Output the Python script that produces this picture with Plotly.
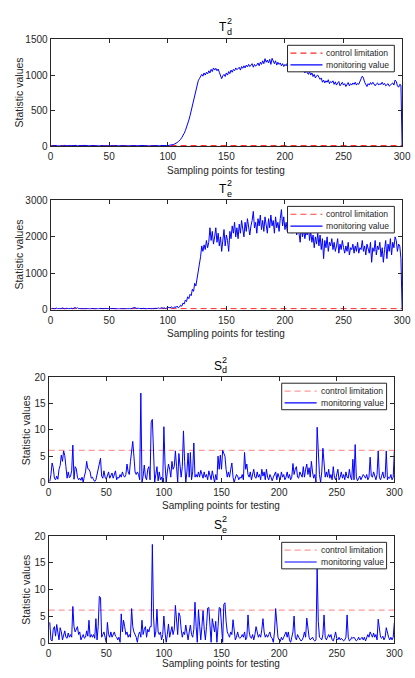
import plotly.graph_objects as go

W, H = 415, 678

x_samples = list(range(1, 301))

t2_d = [
    8, 12, 6, 10, 14, 9, 7, 11, 13, 8,
    10, 15, 9, 12, 8, 11, 14, 10, 7, 12,
    16, 11, 9, 13, 10, 8, 12, 15, 11, 9,
    13, 10, 7, 11, 14, 9, 12, 10, 8, 13,
    11, 9, 12, 15, 10, 8, 11, 13, 9, 12,
    10, 14, 11, 8, 12, 9, 13, 10, 11, 15,
    9, 12, 10, 8, 13, 11, 9, 14, 12, 10,
    16, 12, 9, 11, 13, 10, 8, 12, 14, 11,
    9, 13, 10, 12, 8, 11, 15, 10, 12, 9,
    11, 13, 10, 14, 12, 9, 11, 15, 13, 12,
    14, 16, 18, 22, 28, 35, 42, 55, 68, 80,
    100, 125, 150, 185, 220, 265, 310, 370, 430, 500,
    570, 640, 720, 800, 870, 920, 950, 990, 1010, 985,
    1030, 1000, 1040, 1015, 1060, 1030, 1080, 1050, 1100, 1070,
    1095, 1060, 1085, 1040, 985, 950, 990, 1010, 980, 1030,
    1000, 1050, 1020, 1070, 1040, 1080, 1060, 1100, 1075, 1090,
    1110, 1070, 1120, 1095, 1130, 1100, 1140, 1115, 1150, 1120,
    1135, 1160, 1110, 1150, 1125, 1140, 1170, 1130, 1180, 1150,
    1200, 1160, 1230, 1180, 1210, 1170, 1220, 1150, 1235, 1190,
    1160, 1200, 1140, 1180, 1150, 1170, 1130, 1160, 1120, 1150,
    1130, 1165, 1120, 1150, 1110, 1140, 1100, 1130, 1090, 1120,
    1080, 1110, 1060, 1090, 1050, 1080, 1030, 1060, 1040, 1010,
    1050, 1000, 1030, 980, 1010, 960, 990, 1000, 970, 940,
    960, 900, 930, 890, 920, 900, 935, 880, 910, 895,
    920, 870, 905, 860, 890, 910, 850, 880, 900, 860,
    880, 840, 870, 895, 850, 880, 860, 890, 870, 900,
    860, 885, 870, 920, 950, 985, 960, 900, 870, 840,
    880, 860, 895, 870, 900, 880, 850, 875, 890, 860,
    880, 870, 900, 865, 885, 850, 870, 880, 845, 860,
    875, 890, 860, 930, 910, 850, 830, 870, 860, 0,
]

t2_e = [
    20, 35, 15, 28, 40, 22, 18, 30, 25, 45,
    30, 18, 25, 38, 22, 15, 28, 35, 20, 42,
    55, 30, 48, 25, 18, 32, 22, 28, 15, 26,
    20, 33, 24, 18, 29, 36, 22, 17, 30, 25,
    19, 28, 34, 22, 16, 27, 31, 20, 24, 18,
    26, 33, 21, 29, 17, 25, 30, 22, 19, 28,
    24, 18, 32, 26, 20, 29, 23, 17, 31, 25,
    40, 58, 30, 22, 35, 28, 19, 26, 33, 21,
    27, 18, 30, 24, 36, 22, 28, 20, 34, 26,
    30, 45, 25, 38, 55, 32, 48, 28, 40, 35,
    60, 42, 75, 50, 38, 80, 55, 95, 45, 70,
    120, 90, 180, 150, 260, 220, 350, 300, 420, 380,
    560, 500, 720, 650, 900, 1050, 1250, 1450, 1750, 1600,
    1780, 1650, 1900, 1700, 1850, 2250, 1900, 2150, 1800, 2000,
    2250, 1850, 2100, 1750, 2000, 1600, 1950, 2200, 1750, 2050,
    1900, 1600, 2150, 1950, 2300, 2100, 2400, 2000, 2250, 1950,
    2350, 2100, 2450, 2200, 2000, 2400, 2150, 2500, 2250, 2050,
    2300, 2450, 2700, 2250, 2400, 2100, 2500, 2300, 2600, 2200,
    2450, 2150, 2550, 2350, 2100, 2500, 2250, 2600, 2300, 2450,
    2100, 2550, 2250, 2400, 2150, 2500, 2750, 2300, 2550, 2200,
    2400, 2150, 2350, 2250, 2450, 2100, 2400, 2200, 2350, 2050,
    2250, 2100, 1850, 2300, 2000, 2200, 1950, 2150, 2050, 2350,
    1900, 2150, 1850, 2050, 1700, 2000, 1800, 2100, 1750, 2050,
    1650, 1950, 1400, 1900, 1700, 2000, 1600, 1850, 1750, 1950,
    1650, 1850, 1600, 1750, 1950, 1550, 1800, 1650, 1900, 1700,
    1550, 1750, 1600, 1850, 1500, 1700, 1650, 1800, 1550, 1750,
    1600, 1850, 1550, 1700, 1650, 1900, 1600, 1750, 1500, 1800,
    1650, 1550, 1850, 1300, 1700, 1600, 1900, 1500, 1750, 1650,
    1850, 1450, 1700, 1300, 1650, 1900, 1400, 1800, 1600, 1950,
    1500, 1850, 1700, 2000, 1900, 1600, 1800, 1750, 1400, 0,
]

s2_d = [
    0.2, 1.5, 3.7, 2.8, 0.8, 0.5, 1.2, 0.6, 2.5, 3.2,
    5.2, 4.0, 6.0, 5.1, 3.0, 0.8, 2.0, 0.9, 1.2, 2.2,
    7.1, 0.6, 3.0, 2.6, 1.0, 0.5, 0.8, 0.4, 1.0, 0.0,
    1.2, 2.0, 4.0, 2.6, 2.5, 2.0, 0.8, 1.0, 0.5, 0.2,
    0.5, 1.5, 2.0, 3.0, 4.6, 1.2, 0.8, 2.2, 1.0, 0.6,
    1.5, 2.0, 0.8, 1.2, 1.8, 0.8, 1.5, 2.2, 0.5, 1.0,
    0.8, 1.5, 1.0, 2.0, 1.3, 1.0, 1.5, 3.5, 2.0, 1.5,
    4.0, 6.5, 7.8, 5.0, 2.0, 1.5, 2.0, 1.5, 0.5, 17.0,
    0.0, 1.2, 3.3, 1.0, 0.5, 2.5, 3.0, 0.5, 11.5, 12.0,
    6.0, 0.0, 1.5, 3.0, 0.3, 2.0, 0.5, 1.0, 0.0, 10.6,
    3.5, 0.0, 2.0, 3.5, 2.5, 1.0, 4.0, 2.5, 3.0, 6.0,
    3.0, 0.0, 5.5, 3.5, 1.0, 3.0, 9.8, 4.0, 0.0, 2.0,
    5.6, 1.0, 5.7, 0.5, 2.0, 7.5, 1.0, 1.5, 1.0, 2.0,
    1.0, 2.3, 1.5, 0.8, 2.0, 1.0, 1.5, 0.5, 2.2, 1.0,
    0.5, 2.2, 1.0, 0.0, 1.5, 0.5, 5.0, 2.5, 5.2, 2.5,
    6.1, 5.5, 5.0, 2.5, 1.0, 2.0, 1.0, 2.5, 3.7, 1.0,
    0.0, 0.8, 1.5, 1.2, 0.5, 1.0, 0.8, 1.5, 0.5, 5.7,
    2.5, 3.5, 1.5, 1.0, 2.0, 0.5, 1.5, 2.5, 1.0, 0.8,
    2.0, 1.0, 1.5, 0.5, 2.5, 1.2, 2.0, 0.5, 2.5, 1.0,
    0.5, 1.5, 1.0, 0.3, 1.0, 1.5, 2.0, 0.5, 1.7, 1.0,
    0.5, 2.0, 1.0, 1.5, 0.5, 1.0, 2.0, 0.8, 1.5, 0.5,
    1.0, 3.6, 1.5, 2.5, 3.0, 1.0, 0.8, 2.0, 1.5, 1.0,
    3.0, 1.0, 2.5, 3.5, 1.5, 2.8, 1.0, 4.0, 2.0, 0.8,
    1.5, 0.0, 10.5, 4.0, 1.5, 0.0, 2.0, 6.5, 2.5, 1.0,
    2.0, 1.0, 2.5, 0.8, 1.5, 0.5, 3.0, 1.0, 0.5, 1.5,
    2.5, 0.5, 1.0, 2.0, 0.8, 1.5, 0.5, 2.0, 1.0, 0.8,
    2.5, 1.0, 0.5, 4.4, 0.5, 7.2, 1.0, 0.3, 0.8, 1.2,
    0.5, 1.0, 1.5, 1.2, 0.8, 1.5, 0.5, 1.0, 4.8, 1.2,
    1.0, 2.0, 1.0, 0.5, 1.5, 6.0, 1.0, 0.5, 1.2, 2.0,
    0.8, 1.0, 6.0, 0.5, 1.0, 0.8, 1.5, 0.5, 1.0, 6.0,
]

s2_e = [
    3.8, 0.5, 0.3, 2.5, 3.0, 1.2, 3.4, 1.5, 0.5, 2.8,
    2.0, 0.5, 1.5, 2.2, 1.0, 0.8, 1.8, 1.0, 1.5, 1.0,
    6.8, 3.0, 2.0, 2.5, 3.0, 1.5, 2.0, 0.5, 1.2, 1.5,
    0.8, 1.0, 2.2, 1.2, 4.2, 1.0, 1.5, 1.0, 1.5, 0.8,
    4.5, 0.5, 3.0, 8.7, 8.5, 1.0, 1.5, 2.0, 1.0, 0.0,
    3.8, 1.5, 1.0, 2.0, 1.0, 1.5, 2.0, 1.2, 1.0, 0.5,
    1.0, 0.0, 5.4, 2.0, 4.2, 3.0, 1.5, 2.0, 1.0, 1.5,
    1.0, 6.4, 3.0, 2.0, 1.5, 1.0, 0.0, 1.5, 2.0, 1.0,
    4.2, 1.5, 2.5, 3.0, 1.0, 2.5, 2.0, 3.0, 3.0, 18.5,
    5.0, 1.0, 2.0, 6.3, 2.0, 1.5, 2.0, 0.5, 1.5, 5.0,
    2.0, 0.0, 1.5, 3.5, 1.0, 2.0, 3.0, 1.5, 2.5, 7.0,
    4.0, 1.5, 5.6, 5.0, 2.5, 1.0, 2.0, 1.5, 3.3, 2.0,
    0.5, 2.0, 3.3, 1.5, 1.0, 2.5, 7.6, 3.0, 0.0, 6.2,
    2.0, 0.5, 3.0, 6.0, 2.5, 0.5, 3.0, 6.5, 6.6, 2.0,
    0.0, 4.5, 3.0, 2.0, 4.0, 0.0, 3.0, 6.6, 6.5, 2.0,
    0.0, 7.2, 7.5, 4.0, 2.0, 1.5, 1.0, 2.0, 1.5, 4.3,
    1.5, 0.5, 1.0, 2.0, 1.0, 0.8, 1.0, 1.5, 1.0, 2.0,
    0.5, 1.0, 5.2, 2.0, 1.0, 0.8, 1.5, 0.5, 1.5, 3.0,
    2.0, 1.0, 1.5, 1.0, 2.5, 4.5, 2.0, 1.0, 1.5, 1.0,
    1.5, 2.0, 1.0, 0.8, 0.0, 2.0, 6.4, 3.0, 1.0, 0.5,
    0.2, 1.0, 0.5, 1.0, 1.5, 2.0, 1.0, 2.0, 0.5, 0.0,
    1.0, 2.0, 5.0, 1.0, 0.5, 1.5, 1.0, 0.5, 0.3, 0.5,
    1.0, 2.0, 1.0, 4.6, 2.5, 1.0, 0.5, 0.8, 1.0, 0.5,
    0.3, 0.5, 14.0, 4.0, 1.0, 0.8, 0.5, 1.5, 5.2, 1.0,
    0.5, 1.0, 1.5, 1.0, 1.5, 0.5, 0.3, 1.0, 2.0, 0.8,
    0.5, 1.0, 0.5, 0.8, 0.5, 0.3, 0.5, 1.0, 5.2, 1.0,
    0.3, 0.5, 1.0, 0.8, 1.0, 0.5, 0.3, 0.5, 1.0, 0.5,
    0.8, 1.0, 0.5, 1.0, 0.3, 1.0, 1.5, 1.0, 2.0, 1.5,
    1.0, 1.8, 1.0, 1.5, 0.5, 4.4, 2.5, 1.0, 0.8, 1.2,
    0.5, 1.0, 2.8, 1.5, 1.0, 0.5, 1.0, 0.5, 1.0, 3.8,
]

control_limits = [12, 25, 6.1, 6.1]
y_ranges = [[0, 1500], [0, 3000], [0, 20], [0, 20]]
y_dticks = [500, 1000, 5, 5]
x_tickvals = [0, 50, 100, 150, 200, 250, 300]
title_main = ["T", "T", "S", "S"]
title_sub = ["d", "e", "d", "e"]
legend_names = ["control limitation", "monitoring value"]
x_label = "Sampling points for testing"
y_label = "Statistic values"

series = [t2_d, t2_e, s2_d, s2_e]

# layout geometry (pixels): panel box (left, right, top, bottom)
boxes = [(49, 411, 34, 143), (49, 411, 198, 309), (47, 403, 378, 485), (47, 403, 540, 648)]
legend_box = [(293, 403, 40, 67), (293, 403, 204, 231), (287, 395, 384, 411), (287, 395, 546, 573)]
title_pos = [(226.5, 21), (226.5, 186), (221.5, 366), (221.5, 528)]
xlab_y = [167.5, 333.5, 508.5, 669.5]
ylab_x = [16, 16, 24, 24]
limit_colors = ["rgba(255,0,0,0.85)", "rgba(255,0,0,0.75)", "rgba(255,70,70,0.55)", "rgba(255,70,70,0.55)"]
DASH = "6px,4px"

def xp(px):
    return px / W

def yp(py):
    return 1 - py / H

FONT = "Liberation Sans, Arial, sans-serif"
TXT = "#262626"

fig = go.Figure()
annotations = []
shapes = []
layout = dict(
    width=W, height=H, autosize=False,
    margin=dict(l=0, r=0, t=0, b=0),
    paper_bgcolor="white", plot_bgcolor="white",
    font=dict(family=FONT, size=10, color=TXT),
    showlegend=False,
)

def pann(text, x, y, size, color=TXT, angle=0, xanchor="center"):
    return dict(text=text, x=xp(x), y=yp(y), xref="paper", yref="paper",
                showarrow=False, xanchor=xanchor, yanchor="middle", textangle=angle,
                font=dict(family=FONT, size=size, color=color))

for i in range(4):
    n = i + 1
    xa = "x" if n == 1 else f"x{n}"
    ya = "y" if n == 1 else f"y{n}"
    vals = series[i]
    fig.add_trace(go.Scatter(
        x=[0, 300], y=[control_limits[i], control_limits[i]], mode="lines",
        line=dict(color=limit_colors[i], width=1.2, dash=DASH),
        name=legend_names[0], xaxis=xa, yaxis=ya, hoverinfo="skip",
    ))
    fig.add_trace(go.Scatter(
        x=x_samples, y=vals, mode="lines",
        line=dict(color="#0000ff", width=1),
        name=legend_names[1], xaxis=xa, yaxis=ya,
    ))
    l, r, t, b = boxes[i]
    axcommon = dict(
        showline=True, mirror="ticks", linecolor=TXT, linewidth=1,
        ticks="inside", ticklen=4, tickcolor=TXT, showgrid=False, zeroline=False,
        tickfont=dict(family=FONT, size=10, color=TXT),
    )
    layout["xaxis" if n == 1 else f"xaxis{n}"] = dict(
        domain=[xp(l), xp(r)], range=[0, 300], tickvals=x_tickvals,
        anchor=ya, ticklabelstandoff=1, **axcommon,
    )
    layout["yaxis" if n == 1 else f"yaxis{n}"] = dict(
        domain=[yp(b), yp(t)], range=y_ranges[i], dtick=y_dticks[i], tick0=0,
        anchor=xa, **axcommon,
    )

    # legend (box, key lines, labels)
    bx0, bx1, by0, by1 = legend_box[i]
    shapes.append(dict(type="rect", xref="paper", yref="paper", layer="above",
                       x0=xp(bx0), x1=xp(bx1), y0=yp(by1), y1=yp(by0),
                       fillcolor="white", line=dict(color=TXT, width=1)))
    row_y = [by0 + 8, by0 + 20]
    key_colors = [limit_colors[i], "#0000ff"]
    key_dash = [DASH, "solid"]
    for k in range(2):
        shapes.append(dict(type="line", xref="paper", yref="paper", layer="above",
                           x0=xp(bx0 + 3), x1=xp(bx0 + 36), y0=yp(row_y[k]), y1=yp(row_y[k]),
                           line=dict(color=key_colors[k], width=1.2, dash=key_dash[k])))
        annotations.append(pann(legend_names[k], bx0 + 38, row_y[k], 8.6, xanchor="left"))

    tx, ty = title_pos[i]
    annotations.append(pann(title_main[i], tx, ty, 12, "black"))
    annotations.append(pann("2", tx + 7, ty - 5.5, 9, "black"))
    annotations.append(pann(title_sub[i], tx + 7, ty + 5, 9, "black"))
    annotations.append(pann(x_label, (l + r) / 2, xlab_y[i], 10))
    annotations.append(pann(y_label, ylab_x[i], (t + b) / 2, 10.5, angle=-90))

layout["annotations"] = annotations
layout["shapes"] = shapes
fig.update_layout(**layout)

fig.write_html("out.html", config={"displayModeBar": False},
               post_script="document.body.style.margin='0';")
